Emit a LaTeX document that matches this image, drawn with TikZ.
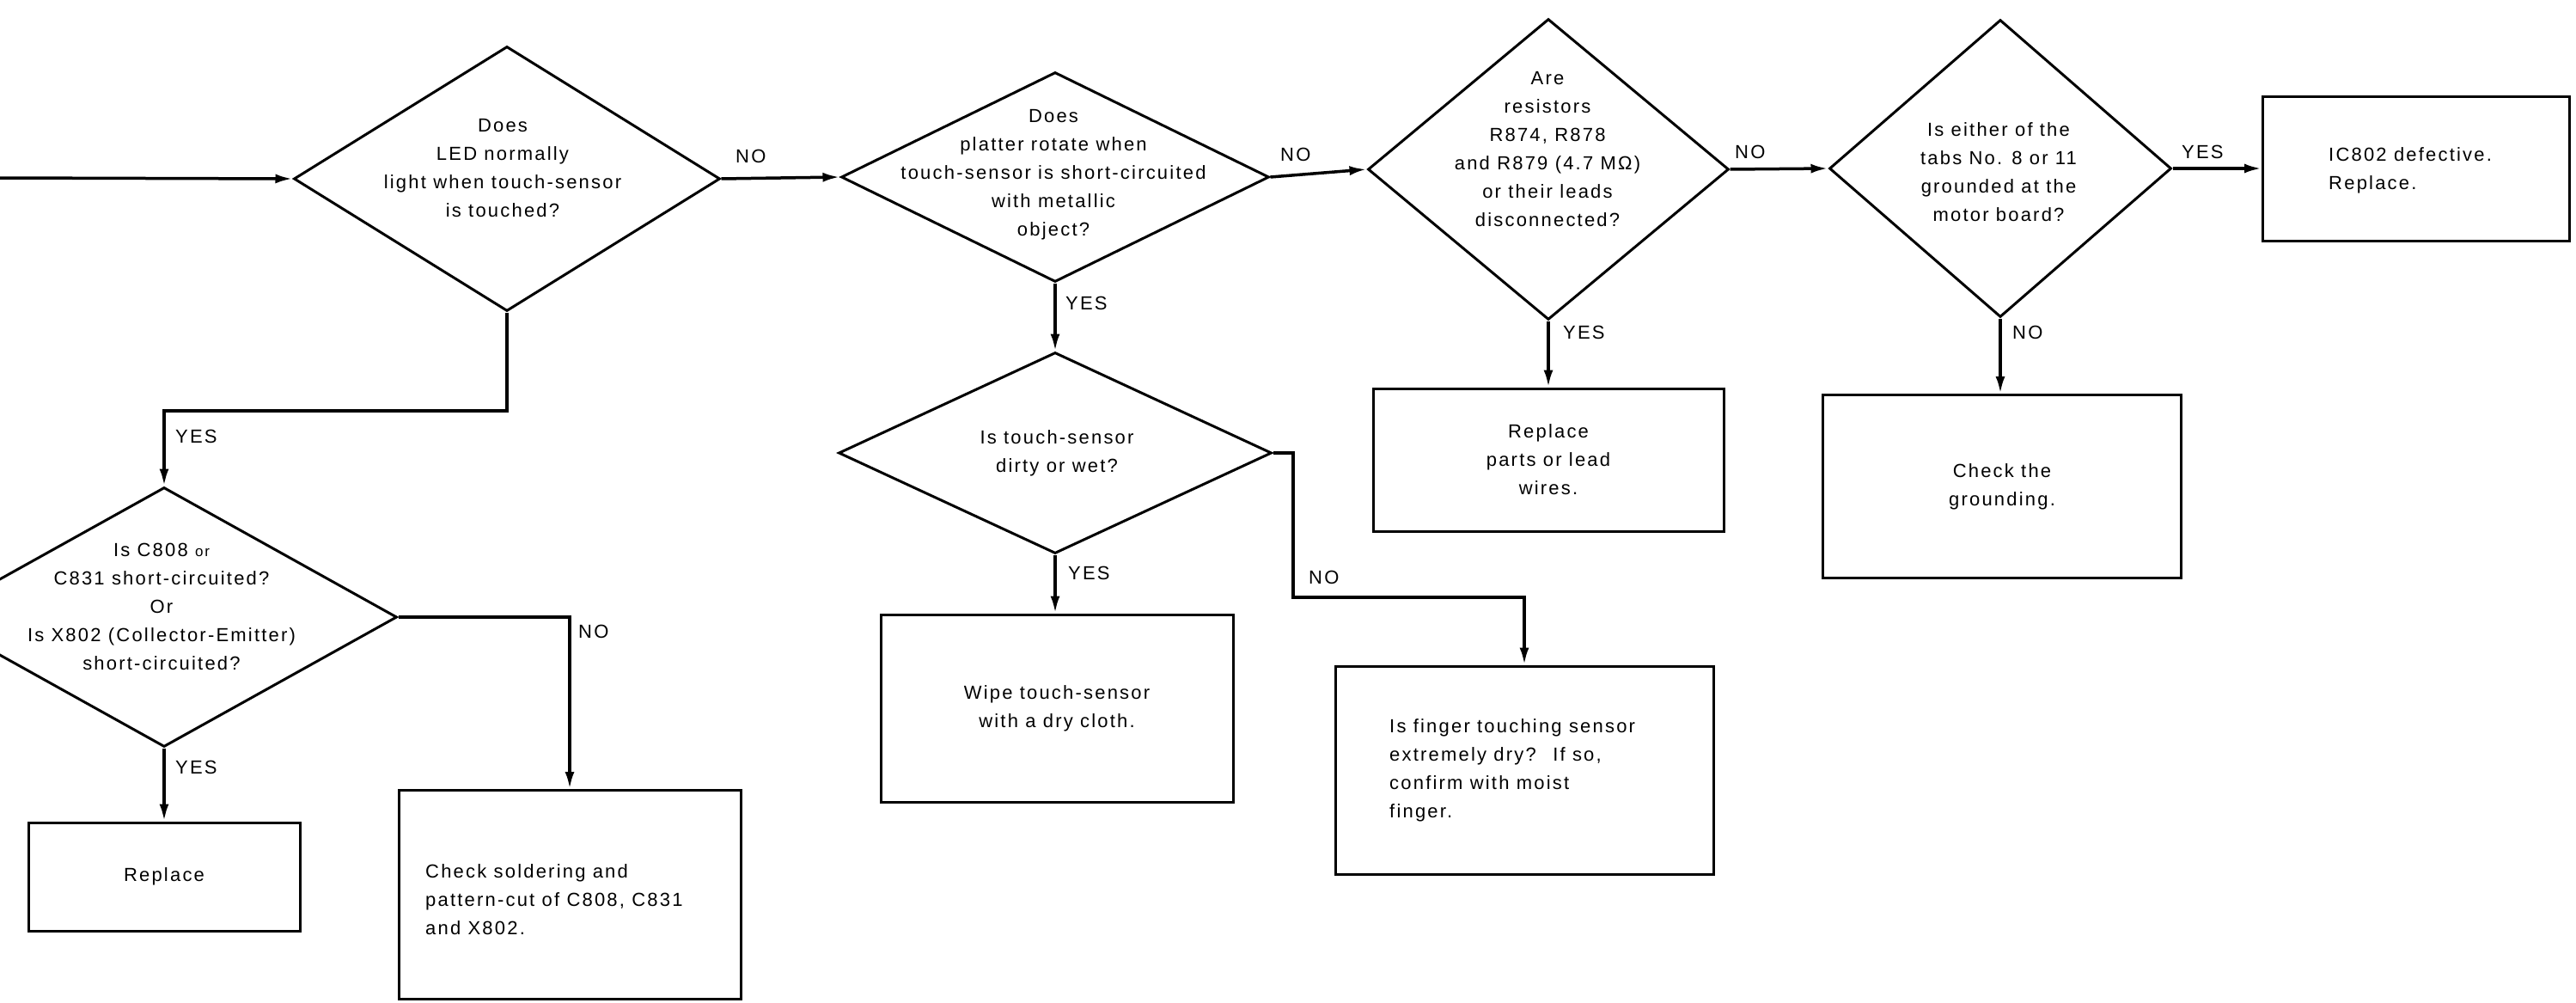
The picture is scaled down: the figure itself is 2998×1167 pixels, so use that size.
\documentclass[tikz,border=0pt]{standalone}
\usepackage{fontspec}
\setmainfont{Liberation Sans}[LetterSpace=10]
\usetikzlibrary{shapes.geometric,arrows.meta}

\begin{document}
\begin{tikzpicture}[x=1pt,y=-1pt,
    every node/.style={font=\fontsize{22}{33}\selectfont, inner sep=0pt},
    ask/.style 2 args={draw, diamond, line width=3pt, minimum width=#1pt, minimum height=#2pt},
    act/.style 2 args={draw, rectangle, line width=3pt, minimum width=#1pt, minimum height=#2pt, align=center},
    txt/.style={align=center},
    lbl/.style={anchor=west},
    arr/.style={line width=3.5pt, -{Latex[length=20pt,width=11pt]}}]
    \useasboundingbox (0,0) rectangle (2998,1167);
    \clip (0,0) rectangle (2998,1167);
    \node[ask={496}{308}] (led) at (590,208) {};
    \node[txt] (ledq) at (585,196) {Does\\LED normally\\light when touch-sensor\\is touched?};
    \node[ask={498}{244}] (plat) at (1228,206) {};
    \node[txt] (platq) at (1226,203) {Does\\platter rotate when\\touch-sensor is short-circuited\\with metallic\\object?};
    \node[ask={420}{350}] (res) at (1802,197) {};
    \node[txt] (resq) at (1801,174) {Are\\resistors\\R874, R878\\and R879 (4.7 MΩ)\\or their leads\\disconnected?};
    \node[ask={398}{346}] (tab) at (2328,196) {};
    \node[txt] (tabq) at (2326,200) {Is either of the\\tabs No. 8 or 11\\grounded at the\\motor board?};
    \node[ask={542}{302}] (cap) at (191,718) {};
    \node[txt] (capq) at (188,706) {Is C808 {\fontsize{17}{33}\selectfont or}\\C831 short-circuited?\\Or\\Is X802 (Collector-Emitter)\\short-circuited?};
    \node[ask={504}{234}] (dirt) at (1228,527) {};
    \node[txt] (dirtq) at (1230,527) {Is touch-sensor\\dirty or wet?};
    \node[act={316}{126}] (rep) at (191,1020) {Replace};
    \node[act={398}{243}] (sold) at (663,1041) {};
    \node[txt, anchor=west, align=left] (soldt) at (495,1047) {Check soldering and\\pattern-cut of C808, C831\\and X802.};
    \node[act={408}{166}] (parts) at (1802,535) {Replace\\parts or lead\\wires.};
    \node[act={410}{218}] (wipe) at (1230,824) {Wipe touch-sensor\\with a dry cloth.};
    \node[act={417}{213}] (gnd) at (2330,566) {Check the\\grounding.};
    \node[act={357}{168}] (ic) at (2812,196) {};
    \node[txt, anchor=west, align=left] (ict) at (2710,198) {IC802 defective.\\Replace.};
    \node[act={440}{242}] (fing) at (1774,896) {};
    \node[txt, anchor=west, align=left] (fingt) at (1617,896) {Is finger touching sensor\\extremely dry?~ If so,\\confirm with moist\\finger.};
    \coordinate (start) at (0,207);
    \coordinate (j1) at (191,478);
    \coordinate (j2) at (1505,695);
    \draw[arr] (start) -- (led.west);
    \draw[arr] (led.east) -- (plat.west);
    \draw[arr] (plat.east) -- (res.west);
    \draw[arr] (res.east) -- (tab.west);
    \draw[arr] (tab.east) -- (ic.west);
    \draw[arr] (led.south) |- (j1) -- (cap.north);
    \draw[arr] (cap.east) -| (sold.north);
    \draw[arr] (cap.south) -- (cap.south |- rep.north);
    \draw[arr] (plat.south) -- (dirt.north);
    \draw[arr] (dirt.south) -- (dirt.south |- wipe.north);
    \draw[arr] (dirt.east) -| (j2) -| (fing.north);
    \draw[arr] (res.south) -- (res.south |- parts.north);
    \draw[arr] (tab.south) -- (tab.south |- gnd.north);
    \foreach \t/\x/\y [count=\i] in {NO/856/182, NO/1490/180, NO/2019/177, YES/2539/177, YES/204/508, NO/673/735, YES/204/893, YES/1240/353, YES/1243/667, NO/1523/672, YES/1819/387, NO/2342/387} {
    \node[lbl] (lab\i) at (\x,\y) {\t};
}
\end{tikzpicture}
\end{document}
